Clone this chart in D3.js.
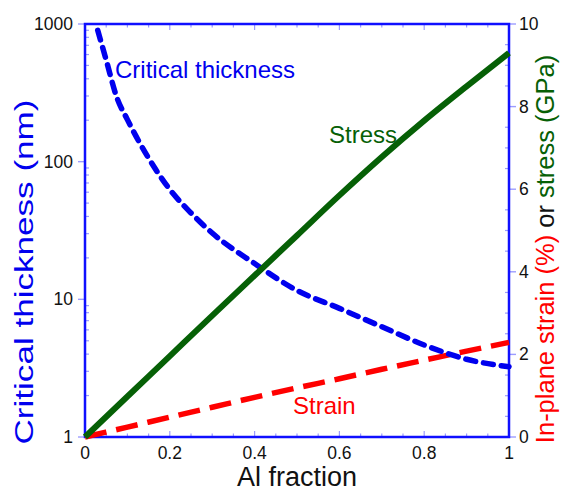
<!DOCTYPE html>
<html>
<head>
<meta charset="utf-8">
<script src="https://cdn.jsdelivr.net/npm/d3@7"></script>
<style>
  html, body { margin: 0; padding: 0; background: #fff; }
  svg { display: block; font-family: "Liberation Sans", Arial, sans-serif; }
</style>
</head>
<body>
<svg id="chart" width="561" height="491"></svg>
<script>
// Al fraction sampled for each curve
const alFraction = [0, 0.1, 0.2, 0.3, 0.4, 0.5, 0.6, 0.7, 0.8, 0.9, 1.0];
// Stress (GPa) vs Al fraction
const stressGPa = [0, 0.98, 1.96, 2.94, 3.91, 4.88, 5.85, 6.78, 7.66, 8.49, 9.3];
// In-plane strain (%) vs Al fraction
const strainPct = [0, 0.24, 0.48, 0.72, 0.96, 1.19, 1.41, 1.64, 1.86, 2.08, 2.29];
// Critical thickness (nm), sampled on its own grid
const critX = [0.03, 0.05, 0.075, 0.1, 0.15, 0.2, 0.25, 0.3, 0.4, 0.5, 0.6, 0.7, 0.8, 0.9, 1.0];
const critNm = [900, 547, 293, 202, 106, 62.8, 42.4, 30.3, 18.2, 11.6, 8.6, 6.32, 4.66, 3.67, 3.24];

// Tick labels
const xTicks = [0, 0.2, 0.4, 0.6, 0.8, 1];
const leftTicks = [1, 10, 100, 1000];
const rightTicks = [0, 2, 4, 6, 8, 10];

const svg = d3.select("#chart");
const L = 85, R = 509, T = 24, B = 437;

const x = d3.scaleLinear().domain([0, 1]).range([L, R]);
const yLog = d3.scaleLog().domain([1, 1000]).range([B, T]);
const yLin = d3.scaleLinear().domain([0, 10]).range([B, T]);

const axisBlue = "#1010ff";
const tickBlue = "#9c9cff";
const green = "#066006";

// minor / major ticks
const g = svg.append("g");
// bottom & top ticks (inward)
d3.range(0, 1.0001, 0.05).forEach(v => {
  const major = Math.abs(v * 5 - Math.round(v * 5)) < 1e-6;
  const len = major ? 6 : 3.5;
  g.append("line").attr("x1", x(v)).attr("x2", x(v)).attr("y1", B).attr("y2", B - len)
    .attr("stroke", tickBlue).attr("stroke-width", 1.2);
  g.append("line").attr("x1", x(v)).attr("x2", x(v)).attr("y1", T).attr("y2", T + len)
    .attr("stroke", tickBlue).attr("stroke-width", 1.2);
});
// left log ticks: majors outward, minors inward
leftTicks.forEach(v => {
  g.append("line").attr("x1", L - 7).attr("x2", L).attr("y1", yLog(v)).attr("y2", yLog(v))
    .attr("stroke", tickBlue).attr("stroke-width", 1.4);
});
[1, 10, 100].forEach(dec => {
  d3.range(2, 10).forEach(m => {
    const yy = yLog(dec * m);
    g.append("line").attr("x1", L).attr("x2", L + 4).attr("y1", yy).attr("y2", yy)
      .attr("stroke", tickBlue).attr("stroke-width", 1.2);
  });
});
// right linear ticks: majors outward, minors inward
rightTicks.forEach(v => {
  g.append("line").attr("x1", R).attr("x2", R + 7).attr("y1", yLin(v)).attr("y2", yLin(v))
    .attr("stroke", tickBlue).attr("stroke-width", 1.4);
});
d3.range(0.5, 10, 0.5).filter(v => v % 2 !== 0).forEach(v => {
  g.append("line").attr("x1", R).attr("x2", R - 4).attr("y1", yLin(v)).attr("y2", yLin(v))
    .attr("stroke", tickBlue).attr("stroke-width", 1.2);
});

// frame
svg.append("rect").attr("x", L).attr("y", T).attr("width", R - L).attr("height", B - T)
  .attr("fill", "none").attr("stroke", axisBlue).attr("stroke-width", 2.5);

// tick labels
const tickFont = 17.5;
xTicks.forEach(v => {
  svg.append("text").attr("x", x(v)).attr("y", 459).attr("text-anchor", "middle")
    .attr("font-size", tickFont).attr("fill", "#111").text(String(v));
});
leftTicks.forEach(v => {
  svg.append("text").attr("x", 73).attr("y", yLog(v) + 6).attr("text-anchor", "end")
    .attr("font-size", tickFont).attr("fill", "#111").text(String(v));
});
rightTicks.forEach(v => {
  svg.append("text").attr("x", 519).attr("y", yLin(v) + 6).attr("text-anchor", "start")
    .attr("font-size", tickFont).attr("fill", "#111").text(String(v));
});

// curves
const seriesLine = d3.line().x((d, i) => x(alFraction[i])).y(d => yLin(d)).curve(d3.curveMonotoneX);
const critLine = d3.line().x((d, i) => x(critX[i])).y(d => yLog(d)).curve(d3.curveMonotoneX);

svg.append("path").attr("d", seriesLine(strainPct)).attr("fill", "none")
  .attr("stroke", "#ff0000").attr("stroke-width", 5.5).attr("stroke-dasharray", "22,10");
svg.append("path").attr("d", critLine(critNm)).attr("fill", "none")
  .attr("stroke", "#0000ee").attr("stroke-width", 5.5).attr("stroke-dasharray", "10,8")
  .attr("stroke-linecap", "round");
svg.append("path").attr("d", seriesLine(stressGPa)).attr("fill", "none")
  .attr("stroke", green).attr("stroke-width", 6);

// curve labels
svg.append("text").attr("x", 115).attr("y", 78).attr("font-size", 24)
  .attr("fill", "#0000ee").text("Critical thickness");
svg.append("text").attr("x", 329).attr("y", 143).attr("font-size", 24)
  .attr("fill", green).text("Stress");
svg.append("text").attr("x", 293).attr("y", 414).attr("font-size", 24)
  .attr("fill", "#ff0000").text("Strain");

// axis titles
svg.append("text").attr("x", 297).attr("y", 486).attr("text-anchor", "middle")
  .attr("font-size", 27).attr("fill", "#111").text("Al fraction");
svg.append("text").attr("transform", "translate(33,272) rotate(-90)").attr("text-anchor", "middle")
  .attr("font-size", 26).attr("textLength", 345).attr("lengthAdjust", "spacingAndGlyphs")
  .attr("fill", "#0000ee").text("Critical thickness (nm)");
const rt = svg.append("text").attr("transform", "translate(554,249) rotate(-90)")
  .attr("text-anchor", "middle").attr("font-size", 25.5);
rt.append("tspan").attr("fill", "#ff0000").text("In-plane strain (%)");
rt.append("tspan").attr("fill", "#111").text(" or ");
rt.append("tspan").attr("fill", green).text("stress (GPa)");
</script>
</body>
</html>
